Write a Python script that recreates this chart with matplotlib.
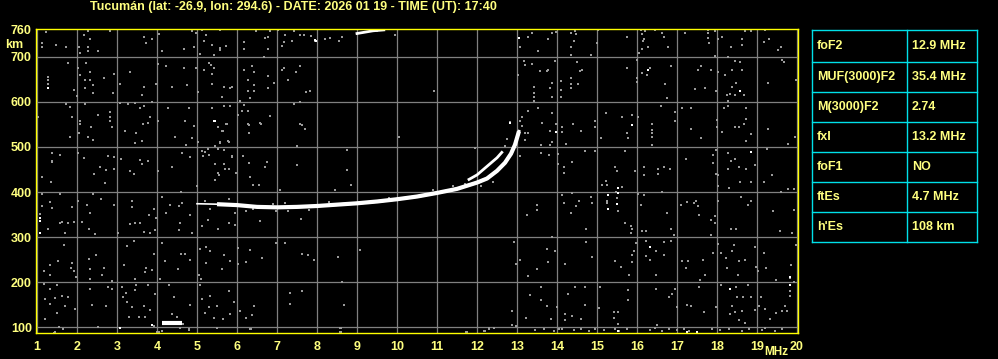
import numpy as np
import matplotlib
matplotlib.use('Agg')
import matplotlib.pyplot as plt

# station / header
title = 'Tucumán (lat: -26.9, lon: 294.6) - DATE: 2026 01 19 - TIME (UT): 17:40'

# scaled parameters (right table)
param_names = ['foF2', 'MUF(3000)F2', 'M(3000)F2', 'fxI', 'foF1', 'ftEs', "h'Es"]
param_values = ['12.9 MHz', '35.4 MHz', '2.74', '13.2 MHz', 'NO', '4.7 MHz', '108 km']

freq_ticks = list(range(1, 21))
height_ticks = [100, 200, 300, 400, 500, 600, 700]
height_labels = ['100', '200', '300', '400', '500', '600', '700', '760']

# F2 trace (MHz, km)
f2_freq = [5.5, 6.0, 6.5, 7.0, 7.5, 8.0, 8.5, 9.0, 9.5, 10.0, 10.5, 11.0, 11.5,
           12.0, 12.25, 12.5, 12.7, 12.85, 12.95, 13.05]
f2_height = [373, 371, 367, 366, 367, 369, 372, 375, 379, 384, 390, 398, 407,
             421, 430, 447, 465, 485, 505, 535]
# inner branch
f2b_freq = [11.8, 12.0, 12.25, 12.5, 12.62]
f2b_height = [428, 438, 457, 476, 488]
# sporadic E
es_freq = [4.12, 4.3, 4.45, 4.62]
es_height = [109, 109, 109, 109]
# multiple echo near the top
top_freq = [9.0, 9.2, 9.4, 9.67]
top_height = [752, 755, 758, 760]

# white echoes
white_f = [7.95, 7.98, 1.28, 1.08, 1.08, 1.08, 5.43, 5.45, 13.98, 15.88, 16.28, 18.58,
           18.84, 15.53, 15.53, 15.28, 15.49, 15.28, 16.33, 18.33, 19.83, 19.83,
           15.53, 17.26, 17.49, 3.08, 3.88, 5.54, 13.05, 12.83]
white_h = [737, 735, 631, 342, 336, 310, 558, 557, 534, 549, 672, 625,
           489, 409, 398, 394, 374, 362, 278, 185, 211, 193,
           92, 89, 89, 97, 105, 372, 741, 554]

# grey noise (MHz, km)
noise = [
    (1.23, 755), (1.13, 731), (1.13, 722), (1.48, 726), (1.73, 722), (2.28, 758), (2.18, 748),
    (2.33, 739), (2.04, 722), (2.28, 722), (2.28, 713), (2.08, 709), (2.53, 713), (2.83, 757),
    (3.68, 744), (3.87, 739), (3.73, 731), (4.13, 713), (4.04, 750), (4.88, 757), (4.98, 754),
    (5.12, 759), (5.22, 748), (5.17, 735), (5.38, 726), (5.57, 716), (5.57, 719), (5.58, 759),
    (5.72, 724), (5.08, 707), (5.42, 704), (4.68, 718), (4.92, 722),
    (1.78, 687), (1.28, 640), (1.28, 648), (1.28, 655), (2.23, 687), (2.03, 675), (2.08, 659),
    (2.19, 649), (2.33, 649), (2.33, 666), (2.39, 638), (2.19, 631), (2.68, 653), (2.93, 662),
    (2.89, 619), (2.39, 619), (1.93, 627), (2.0, 614), (3.33, 666), (3.08, 640), (3.68, 634),
    (3.98, 640), (3.63, 616), (4.03, 684), (4.23, 679), (4.38, 634), (4.68, 675), (4.75, 637),
    (4.98, 675), (5.02, 622), (5.29, 687), (5.35, 681), (5.42, 675), (5.38, 662), (5.18, 672),
    (5.38, 640), (5.68, 634), (5.82, 631), (5.87, 634), (5.63, 612),
    (1.73, 596), (1.83, 588), (1.03, 567), (1.88, 567), (1.83, 522), (2.19, 595), (2.08, 557),
    (2.08, 550), (2.36, 545), (2.04, 531), (2.28, 522), (2.39, 515), (2.53, 572), (2.83, 578),
    (2.83, 567), (2.83, 557), (2.88, 545), (3.08, 598), (3.27, 595), (3.45, 597), (3.58, 586),
    (3.68, 590), (3.87, 600), (3.83, 567), (3.78, 554), (3.64, 550), (3.48, 531), (3.21, 536),
    (3.44, 509), (3.63, 513), (4.03, 558), (4.28, 586), (4.44, 522), (4.69, 558), (4.79, 586),
    (4.88, 519), (4.93, 547), (5.02, 511), (5.38, 586), (5.53, 545), (5.68, 590),
    (5.83, 590), (5.73, 552), (5.63, 536), (5.78, 513), (5.58, 511),
    (1.38, 487), (1.38, 466), (1.38, 470), (1.58, 483), (1.13, 433), (2.03, 486), (2.17, 476),
    (2.78, 481), (2.92, 478), (2.58, 455), (2.72, 449), (2.93, 451), (2.42, 439), (3.1, 474),
    (3.33, 446), (3.43, 440), (3.58, 471), (3.63, 463), (3.78, 469), (4.03, 446), (4.38, 455),
    (4.63, 486), (4.83, 478), (4.72, 504), (5.13, 491), (5.28, 496), (5.29, 483), (5.53, 496),
    (5.67, 493), (5.88, 478), (5.46, 463), (5.67, 463), (5.79, 451), (5.56, 437),
    (1.36, 422), (1.13, 396), (1.58, 396), (1.33, 377), (1.38, 364), (1.13, 368), (1.08, 352),
    (1.28, 317), (1.58, 331), (1.63, 334), (1.78, 331), (1.92, 334), (1.88, 366), (1.71, 310),
    (2.03, 379), (2.13, 334), (2.25, 372), (2.33, 353), (2.29, 317), (2.46, 306), (2.39, 396),
    (2.61, 384), (2.71, 420), (2.93, 372), (3.03, 308), (3.38, 379), (3.38, 366), (3.33, 329),
    (3.46, 331), (3.58, 332), (3.68, 312), (3.83, 310), (3.94, 316), (3.79, 349), (3.93, 363),
    (3.98, 343), (4.13, 390), (4.33, 372), (4.23, 354), (4.54, 368), (4.61, 400), (4.63, 375),
    (4.57, 331), (4.54, 316), (4.83, 349), (4.88, 308), (5.0, 413), (5.21, 381), (5.75, 372),
    (5.79, 385), (5.33, 362), (5.27, 338), (5.13, 325), (5.53, 317), (5.79, 332), (5.96, 353),
    (1.67, 282), (1.53, 246), (1.33, 237), (1.17, 225), (1.33, 215), (1.88, 243), (1.86, 232),
    (1.92, 225), (1.98, 211), (2.29, 251), (2.48, 260), (2.33, 228), (2.33, 206), (2.67, 232),
    (2.63, 215), (2.88, 202), (3.25, 280), (3.43, 291), (3.18, 237), (3.73, 232), (3.88, 226),
    (3.71, 222), (3.44, 206), (4.08, 207), (3.93, 262), (4.13, 287), (4.19, 246), (4.53, 228),
    (4.61, 262), (4.71, 262), (4.83, 250), (5.08, 273), (5.23, 278), (5.33, 269), (5.23, 243),
    (5.67, 260), (5.83, 247), (5.63, 228), (5.04, 215), (5.09, 206),
    (1.17, 195), (1.33, 185), (1.5, 193), (1.63, 170), (1.46, 165), (1.78, 168), (1.19, 163),
    (1.33, 152), (1.71, 146), (1.96, 140), (1.5, 131), (1.19, 118), (1.54, 101), (2.33, 184),
    (2.78, 189), (2.88, 185), (2.38, 150), (2.73, 146), (2.53, 101), (3.13, 189), (3.23, 175),
    (3.14, 166), (3.48, 194), (3.46, 183), (3.78, 194), (3.94, 174), (3.25, 155), (3.38, 144),
    (3.68, 148), (3.83, 137), (3.71, 122), (3.54, 122), (3.29, 122), (3.92, 103), (4.06, 90),
    (4.29, 193), (4.42, 166), (4.38, 129), (4.5, 122), (4.83, 150), (4.66, 108), (5.08, 193),
    (5.33, 170), (5.79, 180), (5.13, 163), (5.92, 155), (5.29, 144), (5.5, 146), (5.21, 131),
    (5.42, 120), (5.65, 118), (5.83, 129), (4.79, 94), (5.5, 97), (1.42, 88),
    (1.45, 89), (1.65, 96), (4.0, 89), (4.12, 92), (4.58, 98), (4.8, 96), (5.49, 98),
    (6.35, 96), (8.59, 98), (8.59, 89), (11.74, 89), (12.2, 92), (12.3, 96),
    (6.48, 758), (6.18, 734), (6.18, 718), (6.71, 743), (6.77, 745), (6.83, 757), (6.78, 718),
    (6.68, 700), (7.03, 759), (7.19, 748), (7.17, 734), (7.13, 724), (7.38, 735), (7.43, 757),
    (7.58, 748), (7.68, 748), (7.86, 746), (7.96, 735), (8.21, 740), (8.33, 743), (8.54, 735),
    (8.63, 744), (9.19, 755), (9.5, 757), (9.94, 748), (13.08, 722), (13.27, 744), (13.38, 754),
    (13.17, 692), (13.21, 681), (13.38, 684), (13.03, 659), (10.93, 625), (6.17, 670),
    (6.38, 679), (6.43, 666), (6.78, 657), (6.93, 643), (7.18, 675), (7.13, 670), (7.48, 666),
    (7.58, 679), (7.28, 648), (6.28, 648), (6.43, 638), (6.28, 625), (6.43, 625), (6.78, 631),
    (6.33, 608), (6.08, 603), (7.73, 623), (7.83, 625), (7.43, 596), (7.58, 599), (6.18, 593),
    (6.03, 572), (6.13, 581), (6.28, 581), (6.83, 569), (6.58, 554), (6.28, 550), (7.58, 550),
    (13.43, 634), (13.43, 619), (13.43, 610), (13.43, 602), (13.27, 581), (13.13, 567),
    (13.07, 558), (12.83, 556),
    (6.23, 358), (6.98, 358), (7.28, 358), (6.58, 335), (7.61, 340), (5.96, 326), (6.03, 276),
    (6.33, 272), (6.23, 245), (6.03, 241), (6.63, 253), (6.98, 286), (7.19, 286), (7.63, 262),
    (7.78, 261), (7.93, 250), (8.53, 256), (9.08, 271), (8.63, 200), (7.33, 176), (7.63, 181),
    (7.33, 152), (6.43, 147), (6.08, 135), (6.23, 121), (6.38, 126), (6.33, 95), (8.68, 150),
    (8.58, 97), (8.58, 90), (11.73, 90), (12.18, 92), (12.29, 97), (12.43, 97), (12.93, 290),
    (13.08, 250), (12.98, 240), (13.27, 214), (13.33, 172), (12.88, 135), (12.88, 105),
    (12.98, 102), (13.23, 121), (13.25, 349),
    (5.74, 550), (6.31, 548), (6.59, 552), (6.3, 530), (5.64, 535), (5.58, 509), (5.45, 503),
    (5.81, 510), (7.49, 503), (7.62, 548), (7.7, 540), (8.74, 494), (8.74, 450), (8.85, 416),
    (8.45, 404), (7.08, 405), (7.51, 461), (6.74, 467), (6.7, 455), (6.56, 415), (6.14, 481),
    (6.3, 465), (5.98, 442), (6.33, 433), (6.41, 416), (5.87, 479), (5.7, 451), (5.53, 442),
    (5.45, 427), (5.2, 488), (5.14, 481), (10.05, 523), (11.95, 497), (12.74, 518), (12.7, 502),
    (13.12, 546), (13.2, 531), (13.2, 515), (13.08, 481), (13.28, 530),
    (7.2, 375), (8.3, 378), (9.8, 386), (10.9, 404), (11.7, 418), (6.4, 362), (6.9, 374),
    (7.8, 360), (11.4, 414), (12.1, 414), (12.4, 422),
    (13.98, 755), (13.88, 754), (13.78, 739), (13.53, 713), (14.34, 754), (14.47, 752),
    (14.43, 735), (14.34, 722), (14.34, 705), (14.44, 758), (14.84, 704), (15.03, 759),
    (15.01, 731), (15.74, 744), (16.09, 759), (16.2, 758), (16.12, 750), (16.18, 740),
    (16.15, 735), (16.28, 722), (16.13, 718), (16.05, 709), (16.44, 759), (16.63, 754),
    (16.68, 744), (16.78, 722), (17.19, 754), (17.78, 759), (17.78, 754), (17.95, 758),
    (17.78, 743), (17.8, 731), (18.03, 740), (18.13, 744), (18.34, 722), (18.63, 739),
    (18.63, 726), (18.7, 758), (18.84, 757), (19.2, 759), (19.18, 734), (19.3, 739),
    (19.53, 716), (19.59, 722), (17.95, 703),
    (13.58, 669), (13.74, 668), (13.78, 671), (13.94, 692), (14.09, 647), (13.88, 643),
    (13.83, 631), (13.88, 612), (14.09, 627), (14.09, 612), (14.34, 653), (14.34, 640),
    (14.34, 631), (14.53, 640), (14.49, 689), (14.58, 668), (14.63, 671), (15.74, 675),
    (16.01, 694), (16.01, 653), (16.01, 644), (16.12, 664), (16.24, 660), (16.33, 675),
    (16.7, 640), (16.84, 679), (16.74, 608), (17.59, 679), (17.53, 671), (17.84, 671),
    (18.03, 666), (18.2, 660), (18.28, 700), (18.45, 692), (18.57, 688), (18.38, 671),
    (18.63, 671), (18.38, 634), (18.48, 643), (18.33, 617), (18.46, 616), (18.67, 616),
    (18.24, 616), (17.98, 624), (18.28, 603), (17.44, 628), (17.69, 631), (19.28, 643),
    (19.63, 694), (19.68, 689), (19.97, 648),
    (13.53, 586), (13.88, 576), (13.63, 554), (13.98, 552), (14.13, 545), (14.13, 534),
    (13.83, 536), (13.88, 511), (13.59, 504), (13.83, 504), (14.23, 507), (14.4, 552),
    (14.59, 536), (14.94, 558), (14.94, 545), (15.09, 519), (15.23, 576), (15.63, 567),
    (15.74, 531), (15.78, 519), (15.88, 571), (16.03, 567), (16.38, 552), (16.38, 537),
    (16.38, 530), (16.38, 522), (16.38, 504), (16.59, 592), (16.94, 578), (16.94, 558),
    (17.13, 586), (17.34, 586), (17.34, 541), (17.59, 519), (17.99, 560), (18.01, 545),
    (18.12, 534), (18.18, 587), (18.28, 591), (18.73, 587), (18.73, 563), (18.68, 550),
    (18.44, 545), (18.54, 545), (18.84, 528), (18.73, 513), (19.28, 541), (19.94, 522),
    (19.78, 506),
    (13.59, 487), (13.8, 483), (14.03, 485), (14.03, 463), (14.18, 455), (14.18, 443),
    (14.38, 466), (14.69, 491), (14.94, 491), (15.44, 455), (15.49, 446), (15.69, 491),
    (15.94, 446), (16.18, 455), (16.18, 437), (16.52, 451), (16.68, 455), (16.83, 451),
    (16.53, 440), (17.23, 474), (17.89, 483), (17.89, 464), (17.98, 493), (17.98, 440),
    (18.03, 437), (18.28, 486), (18.34, 470), (18.45, 474), (18.28, 451), (18.54, 455),
    (18.73, 451), (18.94, 460), (19.24, 496), (19.38, 437),
    (15.23, 424), (15.13, 416), (15.24, 416), (15.47, 399), (15.63, 411), (15.26, 375),
    (15.26, 380), (15.49, 387), (15.53, 357), (14.84, 390), (14.87, 375), (14.55, 381),
    (14.38, 398), (14.13, 394), (14.18, 375), (14.47, 368), (14.34, 354), (14.73, 318),
    (13.88, 301), (13.49, 372), (13.49, 360), (15.7, 332), (15.84, 325), (15.84, 308),
    (15.88, 317), (16.09, 372), (16.13, 313), (16.23, 313), (16.03, 396), (16.18, 394),
    (16.63, 399), (16.74, 354), (16.84, 318), (16.93, 304), (17.09, 372), (17.26, 378),
    (17.43, 375), (17.47, 381), (17.53, 368), (17.54, 349), (17.84, 337), (17.94, 346),
    (17.94, 332), (17.84, 304), (18.03, 413), (18.03, 379), (18.3, 409), (18.34, 317),
    (18.47, 318), (18.59, 390), (18.78, 372), (18.84, 381), (18.57, 422), (18.84, 422),
    (19.18, 422), (19.6, 401), (19.78, 407), (19.93, 407), (19.39, 357), (19.93, 359),
    (19.58, 314), (19.87, 310),
    (13.49, 228), (13.74, 273), (13.94, 269), (13.78, 245), (14.73, 290), (14.88, 256),
    (14.19, 241), (15.44, 247), (15.59, 234), (15.88, 245), (15.88, 260), (15.92, 269),
    (15.8, 215), (15.98, 287), (16.23, 291), (16.23, 257), (16.33, 249), (16.48, 269),
    (16.67, 288), (16.67, 260), (16.84, 291), (16.48, 215), (17.13, 246), (17.28, 247),
    (17.22, 232), (17.66, 249), (17.7, 215), (17.58, 204), (17.89, 265), (18.03, 284),
    (18.09, 265), (18.22, 254), (18.26, 231), (18.43, 282), (18.56, 247), (18.37, 269),
    (18.53, 215), (18.71, 249), (18.94, 278), (18.98, 234), (19.03, 225), (19.23, 232),
    (19.48, 205), (19.83, 210), (19.85, 238), (19.98, 282), (19.18, 265),
    (13.59, 189), (14.28, 174), (14.44, 190), (14.69, 189), (15.08, 189), (15.78, 183),
    (15.78, 160), (15.43, 133), (15.43, 120), (15.53, 133), (15.53, 108), (15.04, 142),
    (14.69, 150), (14.2, 129), (13.84, 118), (13.76, 146), (13.59, 161), (14.37, 125),
    (14.59, 119), (14.2, 116), (14.01, 145), (14.05, 96), (16.48, 185), (16.79, 166),
    (16.88, 174), (16.96, 185), (16.49, 105), (16.99, 144), (17.34, 146), (17.24, 150),
    (17.54, 189), (17.68, 133), (17.97, 144), (18.09, 193), (18.47, 189), (18.78, 193),
    (18.49, 166), (18.66, 166), (18.84, 166), (18.38, 148), (18.33, 129), (18.45, 133),
    (18.63, 136), (18.54, 116), (18.71, 110), (18.96, 137), (19.11, 166), (19.06, 148),
    (19.21, 140), (19.33, 118), (19.48, 131), (19.62, 135), (19.71, 146), (19.83, 181),
    (19.83, 170), (19.75, 135), (19.93, 200),
    (13.45, 93), (13.68, 95), (13.93, 92), (14.13, 96), (14.42, 93), (14.59, 95), (14.79, 92),
    (14.96, 96), (15.17, 93), (15.44, 95), (15.54, 92), (15.75, 96), (16.33, 93), (16.46, 97),
    (16.63, 92), (16.79, 95), (17.0, 93), (17.17, 96), (17.29, 92), (17.88, 95), (18.08, 93),
    (18.29, 96), (18.63, 92), (18.79, 95), (19.13, 93), (19.21, 97), (19.46, 92), (19.63, 95),
]
noise_f = [p[0] for p in noise]
noise_h = [p[1] for p in noise]

YELLOW = '#ffff80'
BORDER = '#ffff00'
GRID = '#808080'
CYAN = '#00e0e8'
W, H = 998, 359

plt.rcParams['font.family'] = ['Liberation Sans', 'DejaVu Sans']
fig = plt.figure(figsize=(W / 100, H / 100), dpi=100, facecolor='black')
ax = fig.add_axes([36 / W, 26 / H, 762 / W, 304 / H], facecolor='black')
ax.set_xlim(0.975, 20.025)
ax.set_ylim(87, 762)

# grid
for f in freq_ticks:
    ax.axvline(f, color=GRID, lw=0.9, zorder=1)
for h in height_ticks:
    ax.axhline(h, color=GRID, lw=0.9, zorder=1)

ax.plot(noise_f, noise_h, 's', ms=1.6, mew=0, color='#9a9a9a', zorder=2)
ax.plot(white_f, white_h, 's', ms=1.6, mew=0, color='white', zorder=3)

ax.plot(f2_freq, f2_height, color='white', lw=3.0, solid_capstyle='butt', zorder=4)
ax.plot(f2_freq[4:], f2_height[4:], color='white', lw=2.0, zorder=4)
ax.plot(f2b_freq, f2b_height, color='white', lw=2.0, zorder=4)
ax.plot([5.0, 5.5], [374, 373], color='white', lw=1.2, zorder=4)
ax.plot(es_freq, es_height, color='white', lw=3.0, solid_capstyle='butt', zorder=4)
ax.plot(top_freq, top_height, color='white', lw=2.0, zorder=4)

for s in ax.spines.values():
    s.set_color(BORDER)
    s.set_linewidth(1.0)
    s.set_zorder(6)

ax.set_xticks(freq_ticks)
ax.set_xticklabels([str(f) for f in freq_ticks])
ax.set_yticks(height_ticks + [760])
ax.set_yticklabels(height_labels)
ax.tick_params(length=0, colors=YELLOW, labelsize=9)
ax.tick_params(axis='x', pad=6)
ax.tick_params(axis='y', pad=3)
for lab in ax.get_xticklabels() + ax.get_yticklabels():
    lab.set_fontweight('bold')

fig.text(90 / W, 1 - 7 / H, title, color=YELLOW, fontsize=9, fontweight='bold',
         ha='left', va='center')
fig.text(14 / W, 1 - 45 / H, 'km', color=YELLOW, fontsize=9, fontweight='bold',
         ha='center', va='center')
fig.text(776 / W, 1 - 352 / H, 'MHz', color=YELLOW, fontsize=8.5, fontweight='bold',
         ha='center', va='center')

# parameter table
tab = fig.add_axes([0, 0, 1, 1], facecolor='none')
tab.set_xlim(0, W)
tab.set_ylim(H, 0)
tab.axis('off')
row_edges = [30, 62, 92, 122, 152, 182, 212, 242]
x0, xm, x1 = 812, 907, 977
for y in row_edges:
    tab.plot([x0, x1], [y, y], color=CYAN, lw=1.0)
for x in (x0, xm, x1):
    tab.plot([x, x], [row_edges[0], row_edges[-1]], color=CYAN, lw=1.0)
for i, (name, val) in enumerate(zip(param_names, param_values)):
    yc = (row_edges[i] + row_edges[i + 1]) / 2
    tab.text(817, yc, name, color=YELLOW, fontsize=9, fontweight='bold', ha='left', va='center')
    tab.text(912, yc, val, color=YELLOW, fontsize=9, fontweight='bold', ha='left', va='center')

fig.savefig('out.png', dpi=100, facecolor='black')
